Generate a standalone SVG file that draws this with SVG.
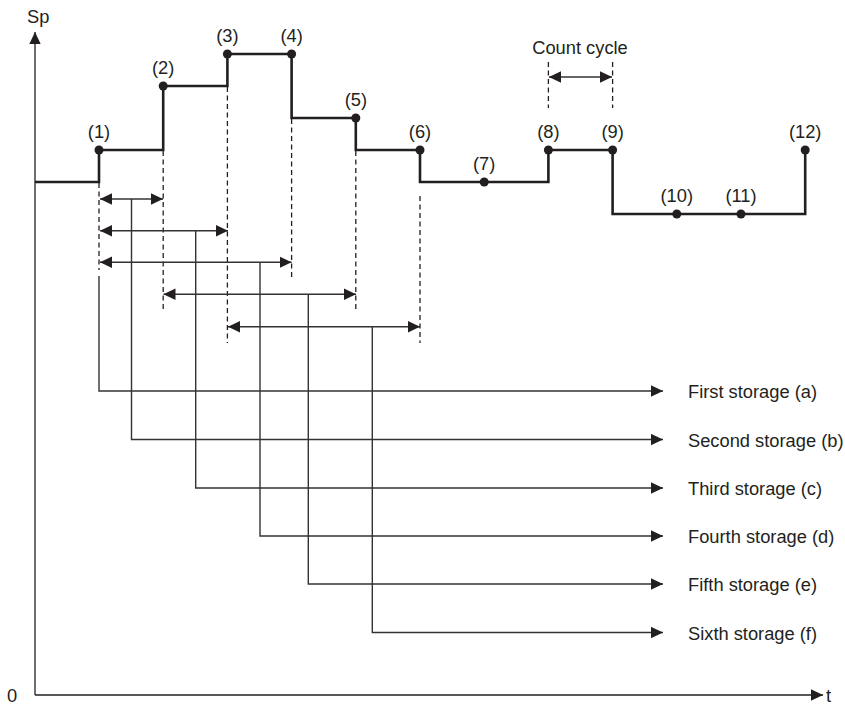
<svg xmlns="http://www.w3.org/2000/svg" width="845" height="705" viewBox="0 0 845 705">
<defs>
<style>
text{font-family:"Liberation Sans",Arial,sans-serif;font-size:18.3px;fill:#231f20}
.lbl{text-anchor:middle}
.axis{fill:none;stroke:#231f20;stroke-width:1.3}
.curve{fill:none;stroke:#231f20;stroke-width:2.6;stroke-linejoin:miter}
.dash{fill:none;stroke:#231f20;stroke-width:1.3;stroke-dasharray:5 3.5}
.thin{fill:none;stroke:#333;stroke-width:1.4}
.dot{fill:#231f20}
</style>
<marker id="ah" viewBox="0 0 12 12" refX="12" refY="6" markerWidth="12" markerHeight="12" markerUnits="userSpaceOnUse" orient="auto-start-reverse">
<path d="M0,0.3 L12,6 L0,11.7 z" fill="#231f20"/>
</marker>
</defs>
<rect width="845" height="705" fill="#fff"/>

<g id="axes">
<path class="axis" d="M35,695 V32" marker-end="url(#ah)"/>
<path class="axis" d="M35,695 H823" marker-end="url(#ah)"/>
<text x="27" y="23">Sp</text>
<text x="7" y="702">0</text>
<text x="826" y="702">t</text>
</g>

<g id="curve">
<path class="curve" d="M35,182 H99 V150 H163.2 V86 H227.4 V54 H291.6 V118 H355.8 V150 H420 V182 H548.4 V150 H612.6 V214 H805.2 V150"/>
</g>

<g id="p1"><circle class="dot" cx="99" cy="150" r="4.5"/><text class="lbl" x="99" y="138">(1)</text></g>
<g id="p2"><circle class="dot" cx="163.2" cy="86" r="4.5"/><text class="lbl" x="163.2" y="74">(2)</text></g>
<g id="p3"><circle class="dot" cx="227.4" cy="54" r="4.5"/><text class="lbl" x="227.4" y="42">(3)</text></g>
<g id="p4"><circle class="dot" cx="291.6" cy="54" r="4.5"/><text class="lbl" x="291.6" y="42">(4)</text></g>
<g id="p5"><circle class="dot" cx="355.8" cy="118" r="4.5"/><text class="lbl" x="355.8" y="106">(5)</text></g>
<g id="p6"><circle class="dot" cx="420" cy="150" r="4.5"/><text class="lbl" x="420" y="138">(6)</text></g>
<g id="p7"><circle class="dot" cx="484.2" cy="182" r="4.5"/><text class="lbl" x="484.2" y="170">(7)</text></g>
<g id="p8"><circle class="dot" cx="548.4" cy="150" r="4.5"/><text class="lbl" x="548.4" y="138">(8)</text></g>
<g id="p9"><circle class="dot" cx="612.6" cy="150" r="4.5"/><text class="lbl" x="612.6" y="138">(9)</text></g>
<g id="p10"><circle class="dot" cx="676.8" cy="214" r="4.5"/><text class="lbl" x="676.8" y="202">(10)</text></g>
<g id="p11"><circle class="dot" cx="741" cy="214" r="4.5"/><text class="lbl" x="741" y="202">(11)</text></g>
<g id="p12"><circle class="dot" cx="805.2" cy="150" r="4.5"/><text class="lbl" x="805.2" y="138">(12)</text></g>

<g id="guides">
<path class="dash" d="M99,183 V270"/>
<path class="dash" d="M163.2,151 V310"/>
<path class="dash" d="M227.4,87 V343"/>
<path class="dash" d="M291.6,119 V278"/>
<path class="dash" d="M355.8,151 V310"/>
<path class="dash" d="M420,196 V343"/>
<path class="dash" d="M548.4,62 V108"/>
<path class="dash" d="M612.6,62 V108"/>
</g>

<g id="count-cycle">
<path class="thin" d="M549,77 H612" marker-start="url(#ah)" marker-end="url(#ah)"/>
<text class="lbl" x="580" y="54">Count cycle</text>
</g>

<g id="connectors">
<path class="thin" d="M100,199 H163" marker-start="url(#ah)" marker-end="url(#ah)"/>
<path class="thin" d="M100,230.7 H228" marker-start="url(#ah)" marker-end="url(#ah)"/>
<path class="thin" d="M100,262.3 H291.6" marker-start="url(#ah)" marker-end="url(#ah)"/>
<path class="thin" d="M163.5,294.3 H356" marker-start="url(#ah)" marker-end="url(#ah)"/>
<path class="thin" d="M228,326.7 H420" marker-start="url(#ah)" marker-end="url(#ah)"/>
<path class="thin" d="M99,276 V391 H663" marker-end="url(#ah)"/>
<path class="thin" d="M131.5,199 V439.5 H663" marker-end="url(#ah)"/>
<path class="thin" d="M195.7,230.7 V488 H663" marker-end="url(#ah)"/>
<path class="thin" d="M260,262.3 V536 H663" marker-end="url(#ah)"/>
<path class="thin" d="M308.3,294.3 V584 H663" marker-end="url(#ah)"/>
<path class="thin" d="M372.3,326.7 V632.5 H663" marker-end="url(#ah)"/>
</g>

<g id="storage-a"><text x="688" y="398">First storage (a)</text></g>
<g id="storage-b"><text x="688" y="446.5">Second storage (b)</text></g>
<g id="storage-c"><text x="688" y="495">Third storage (c)</text></g>
<g id="storage-d"><text x="688" y="543">Fourth storage (d)</text></g>
<g id="storage-e"><text x="688" y="591">Fifth storage (e)</text></g>
<g id="storage-f"><text x="688" y="639.5">Sixth storage (f)</text></g>
</svg>
